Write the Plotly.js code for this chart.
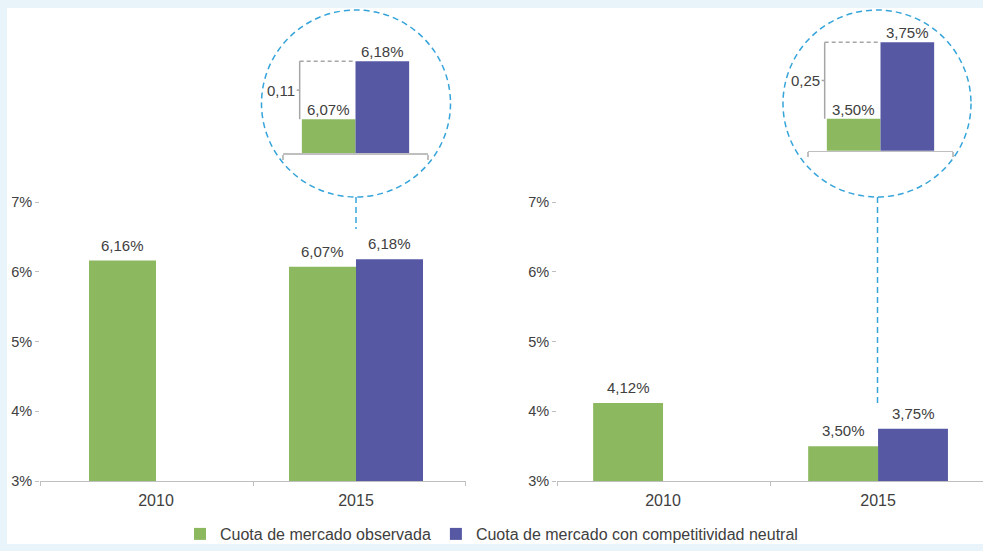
<!DOCTYPE html>
<html>
<head>
<meta charset="utf-8">
<script src="https://cdn.plot.ly/plotly-3.0.1.min.js"></script>
<style>html,body{margin:0;padding:0;background:#e9f4fa;}#chart{width:983px;height:551px;}</style>
</head>
<body>
<div id="chart"></div>
<script>
// ---- data ----
const years = ['2010', '2015'];
const leftObserved = [6.16, 6.07];
const leftNeutral = [null, 6.18];
const rightObserved = [4.12, 3.50];
const rightNeutral = [null, 3.75];
const yTicks = [3, 4, 5, 6, 7];
const yTickText = ['3%', '4%', '5%', '6%', '7%'];
const seriesNames = ['Cuota de mercado observada', 'Cuota de mercado con competitividad neutral'];

// ---- style ----
const W = 983, H = 551;
const px = x => x / W;
const py = y => 1 - y / H;
const GREEN = '#8cb860';
const PURPLE = '#5658a4';
const TXT = '#404040';
const AX = '#bfbfbf';
const CIRC = '#35a4da';
const FONT = 'Liberation Sans, Arial, sans-serif';
const LBL = 15;
const idx = years.map((_, i) => i);
const fmt = v => v.toFixed(2).replace('.', ',');

const wL = 0.335, wR = 0.325, wI = 0.37;

function bars(xa, ya, obs, neu, w, xs, legend) {
  return [
    {type: 'bar', x: xs, y: obs, xaxis: xa, yaxis: ya, width: w, offset: -w,
     marker: {color: GREEN, line: {width: 0}}, name: seriesNames[0], showlegend: legend, legendgroup: 'a'},
    {type: 'bar', x: xs, y: neu, xaxis: xa, yaxis: ya, width: w, offset: 0,
     marker: {color: PURPLE, line: {width: 0}}, name: seriesNames[1], showlegend: legend, legendgroup: 'b'}
  ];
}

const data = [
  ...bars('x', 'y', leftObserved, leftNeutral, wL, idx, true),
  ...bars('x2', 'y2', rightObserved, rightNeutral, wR, idx, false),
  ...bars('x3', 'y3', [leftObserved[1]], [leftNeutral[1]], wI, [0], false),
  ...bars('x4', 'y4', [rightObserved[1]], [rightNeutral[1]], wI, [0], false)
];

function mainX(domain, range, dividers, anchor) {
  return {domain: domain, range: range, anchor: anchor, tickmode: 'array', tickvals: idx, ticktext: years,
    ticks: '', ticklabelstandoff: 5, showline: true, linecolor: AX, linewidth: 1, showgrid: false, zeroline: false,
    tickfont: {size: 16, color: TXT}, fixedrange: true,
    minor: {tickmode: 'array', tickvals: dividers, ticks: 'outside', ticklen: 4, tickcolor: AX, tickwidth: 1, showgrid: false}};
}
function mainY(anchor) {
  return {domain: [py(481), py(202)], range: [3, 7], anchor: anchor, tickmode: 'array', tickvals: yTicks,
    ticktext: yTickText, ticks: 'outside', ticklen: 4, tickcolor: AX, showline: false, showgrid: false,
    zeroline: false, tickfont: {size: 14.5, color: TXT}, fixedrange: true};
}
function insetX(domain, anchor) {
  return {domain: domain, range: [-0.5, 0.5], anchor: anchor, tickmode: 'array', tickvals: [-0.499, 0.499],
    ticks: 'outside', ticklen: 5, tickcolor: AX, tickwidth: 1.5, showticklabels: false,
    showline: true, linecolor: AX, linewidth: 1.5, showgrid: false, zeroline: false, fixedrange: true};
}
function insetY(domain, range, anchor) {
  return {domain: domain, range: range, anchor: anchor, visible: false, fixedrange: true};
}

const annotations = [];
function labelBars(xr, yr, obs, neu, w, xs, shift) {
  xs.forEach((x, i) => {
    if (obs[i] != null) annotations.push({xref: xr, yref: yr, x: x - w / 2, y: obs[i], text: fmt(obs[i]) + '%',
      showarrow: false, yanchor: 'bottom', yshift: shift, font: {size: LBL, color: TXT}});
    if (neu[i] != null) annotations.push({xref: xr, yref: yr, x: x + w / 2, y: neu[i], text: fmt(neu[i]) + '%',
      showarrow: false, yanchor: 'bottom', yshift: shift, font: {size: LBL, color: TXT}});
  });
}
labelBars('x', 'y', leftObserved, leftNeutral, wL, idx, 5);
labelBars('x2', 'y2', rightObserved, rightNeutral, wR, idx, 5);
labelBars('x3', 'y3', [leftObserved[1]], [leftNeutral[1]], wI, [0], -1);
labelBars('x4', 'y4', [rightObserved[1]], [rightNeutral[1]], wI, [0], -1);

const shapes = [
  {type: 'rect', xref: 'paper', yref: 'paper', x0: px(7), x1: 1, y0: py(544), y1: py(8),
   fillcolor: '#ffffff', line: {width: 0}, layer: 'below'}
];
function bracket(xr, yr, lo, hi) {
  const bx = -0.385;
  const mid = (lo + hi) / 2;
  shapes.push({type: 'line', xref: xr, yref: yr, x0: bx, x1: bx, y0: lo, y1: hi, line: {color: '#a6a6a6', width: 1.5}});
  shapes.push({type: 'line', xref: xr, yref: yr, x0: bx, x1: 0, y0: hi, y1: hi, line: {color: '#a6a6a6', width: 1.5, dash: '4px,3px'}});
  shapes.push({type: 'line', xref: xr, yref: yr, xsizemode: 'pixel', xanchor: bx, x0: -3, x1: 0, y0: mid, y1: mid,
    line: {color: '#a6a6a6', width: 1.5}});
  annotations.push({xref: xr, yref: yr, x: bx, y: mid, xanchor: 'right', xshift: -3, showarrow: false,
    text: fmt(hi - lo), font: {size: LBL, color: TXT}});
}
bracket('x3', 'y3', leftObserved[1], leftNeutral[1]);
bracket('x4', 'y4', rightObserved[1], rightNeutral[1]);

function zoomCircle(cx, x0, x1, y0, y1, lineEnd) {
  shapes.push({type: 'circle', xref: 'paper', yref: 'paper', x0: px(x0), x1: px(x1), y0: py(y1), y1: py(y0),
    line: {color: CIRC, width: 1.5, dash: '6px,4px'}});
  shapes.push({type: 'line', xref: 'paper', yref: 'paper', x0: px(cx), x1: px(cx), y0: py(y1), y1: py(lineEnd),
    line: {color: CIRC, width: 1.5, dash: '6px,4px'}});
}
zoomCircle(356, 261.5, 450.5, 10, 197, 229);
zoomCircle(877.5, 783, 971, 10, 197, 403);

const layout = {
  width: W, height: H,
  margin: {l: 0, r: 0, t: 0, b: 0},
  paper_bgcolor: '#e9f4fa', plot_bgcolor: 'rgba(0,0,0,0)',
  font: {family: FONT, size: 14, color: TXT},
  barmode: 'overlay', hovermode: false,
  xaxis: mainX([px(40), px(466)], [-0.58, 1.55], [-0.578, 0.485, 1.548], 'y'),
  yaxis: mainY('x'),
  xaxis2: mainX([px(557), 1], [-0.493, 1.488], [-0.491, 0.502], 'y2'),
  yaxis2: mainY('x2'),
  xaxis3: insetX([px(283), px(428)], 'y3'),
  yaxis3: insetY([py(153), py(20)], [6.006, 6.258], 'x3'),
  xaxis4: insetX([px(808), px(953)], 'y4'),
  yaxis4: insetY([py(150.7), py(20)], [3.395, 3.823], 'x4'),
  showlegend: true,
  legend: {orientation: 'h', x: px(180), xanchor: 'left', y: py(517), yanchor: 'top',
    bgcolor: 'rgba(0,0,0,0)', font: {size: 16, color: TXT}, traceorder: 'normal', itemwidth: 30},
  annotations: annotations,
  shapes: shapes
};

Plotly.newPlot('chart', data, layout, {displayModeBar: false, staticPlot: true});
</script>
</body>
</html>
